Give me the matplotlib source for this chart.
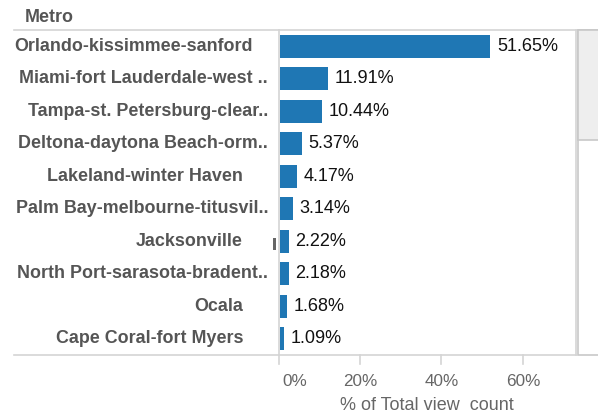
import matplotlib
matplotlib.use("Agg")
import matplotlib.pyplot as plt
import matplotlib.transforms as mtransforms
from matplotlib.patches import Rectangle

plt.rcParams['font.family'] = ['Liberation Sans', 'DejaVu Sans']

metros = ["Orlando-kissimmee-sanford", "Miami-fort Lauderdale-west ..",
          "Tampa-st. Petersburg-clear..", "Deltona-daytona Beach-orm..",
          "Lakeland-winter Haven", "Palm Bay-melbourne-titusvil..",
          "Jacksonville", "North Port-sarasota-bradent..", "Ocala",
          "Cape Coral-fort Myers"]
shares = [51.65, 11.91, 10.44, 5.37, 4.17, 3.14, 2.22, 2.18, 1.68, 1.09]
ticks = [0, 20, 40, 60]
tick_labels = ["0%", "20%", "40%", "60%"]

W, H = 598, 413
fig = plt.figure(figsize=(W / 100, H / 100), dpi=100)

def fx(px):
    return px / W

def fy(py):
    return 1 - py / H

ax_left, ax_right, ax_top, ax_bottom = 278.5, 575.5, 30, 355
ax = fig.add_axes([fx(ax_left), fy(ax_bottom), fx(ax_right - ax_left), (ax_bottom - ax_top) / H])

n = len(metros)
ypos = list(range(n))
ax.barh(ypos, shares, height=0.72, color="#1f77b4", left=0.35)
ax.set_ylim(n - 0.5, -0.5)
ax.set_xlim(0, 72.9)
for s in ax.spines.values():
    s.set_visible(False)
ax.set_xticks([])
ax.set_yticks([])

for y, v in zip(ypos, shares):
    ax.text(v + 0.35 + 1.6, y, f"{v:.2f}%", va="center", ha="left",
            fontsize=13, color="#111111")

line_c = "#d4d4d4"
fig.add_artist(plt.Line2D([fx(14), fx(576)], [fy(ax_top), fy(ax_top)], color=line_c, lw=1.2))
fig.add_artist(plt.Line2D([fx(14), fx(576)], [fy(ax_bottom), fy(ax_bottom)], color=line_c, lw=1.2))
fig.add_artist(plt.Line2D([fx(575.5), fx(575.5)], [fy(ax_top), fy(ax_bottom)], color=line_c, lw=1.2))
fig.add_artist(plt.Line2D([fx(278.5), fx(278.5)], [fy(ax_top), fy(ax_bottom)], color=line_c, lw=1.2))

tr = mtransforms.blended_transform_factory(ax.transData, fig.transFigure)
for t, lab in zip(ticks, tick_labels):
    fig.add_artist(plt.Line2D([t, t], [fy(ax_bottom), fy(364)], color=line_c, lw=1.2,
                              transform=tr))
    if t == ticks[0]:
        fig.text(fx(282), fy(381), lab, ha="left", va="center",
                 fontsize=12.3, color="#666666")
    else:
        fig.text(t, fy(381), lab, transform=tr, ha="center", va="center",
                 fontsize=12.3, color="#666666")

fig.text(fx(426.5), fy(405), "% of Total view  count", ha="center", va="center",
         fontsize=13, color="#666666")

fig.text(fx(25), fy(17), "Metro", ha="left", va="center", fontsize=12.9,
         fontweight="bold", color="#555555")

trl = mtransforms.blended_transform_factory(fig.transFigure, ax.transData)
for y, name in zip(ypos, metros):
    if name.endswith(".."):
        xr = 268
    elif len(name) > 22:
        xr = 253
    else:
        xr = 243
    ax.text(fx(xr), y, name, transform=trl, ha="right", va="center",
            fontsize=12.9, fontweight="bold", color="#555555")

# small clipped glyph fragment next to the Jacksonville row
fig.add_artist(Rectangle((fx(273), fy(250)), fx(3), 12 / H, transform=fig.transFigure,
                         facecolor="#666666", edgecolor="none"))

fig.add_artist(Rectangle((fx(578), fy(355)), fx(22), (355 - 30) / H, transform=fig.transFigure,
                         facecolor="white", edgecolor="#c8c8c8", lw=1.2))
fig.add_artist(Rectangle((fx(578), fy(140)), fx(22), (140 - 30) / H, transform=fig.transFigure,
                         facecolor="#eeeeee", edgecolor="#c8c8c8", lw=1.2))

fig.savefig("out.png", dpi=100)
